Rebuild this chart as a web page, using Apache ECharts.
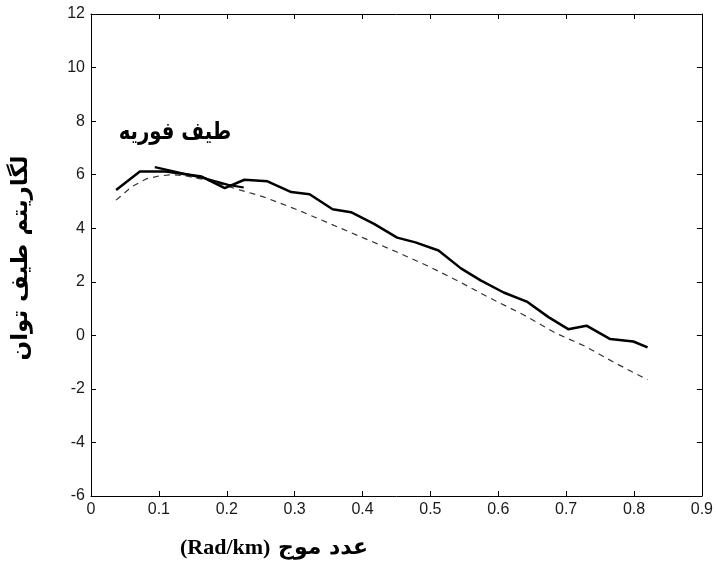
<!DOCTYPE html>
<html><head><meta charset="utf-8">
<script src="https://cdn.jsdelivr.net/npm/echarts@6/dist/echarts.min.js"></script>
<style>html,body{margin:0;padding:0;background:#fff}#c{width:716px;height:571px}</style>
</head><body><div id="c"></div>
<script>
const xTicks = [0,0.1,0.2,0.3,0.4,0.5,0.6,0.7,0.8,0.9];
const yTicks = [-6,-4,-2,0,2,4,6,8,10,12];
const mainX = [0.037,0.072,0.11,0.163,0.197,0.226,0.26,0.295,0.322,0.356,0.383,0.417,0.451,0.478,0.512,0.545,0.574,0.608,0.642,0.674,0.703,0.730,0.765,0.799,0.820];
const mainY = [5.43,6.12,6.12,5.93,5.50,5.81,5.75,5.35,5.27,4.71,4.60,4.16,3.65,3.47,3.17,2.50,2.05,1.60,1.26,0.68,0.23,0.36,-0.14,-0.23,-0.45];
const shortX = [0.094,0.133,0.170,0.202,0.225];
const shortY = [6.28,6.06,5.85,5.62,5.52];
const dashX = [0.037,0.06,0.082,0.10,0.12,0.14,0.17,0.20,0.219,0.253,0.304,0.353,0.402,0.449,0.498,0.542,0.588,0.637,0.684,0.728,0.772,0.82];
const dashY = [5.05,5.55,5.85,5.95,6.0,5.95,5.8,5.58,5.43,5.18,4.69,4.16,3.63,3.13,2.57,2.01,1.39,0.77,0.09,-0.41,-1.03,-1.66];
const titleText = 'طیف فوریه';
const yLabel = 'لگاریتم طیف توان';
const xLabelLatin = '(Rad/km)';
const xLabelArabic = 'عدد موج';

const zip = (a,b)=>a.map((v,i)=>[v,b[i]]);
const chart = echarts.init(document.getElementById('c'), null, {renderer:'canvas'});
const lblFont = {color:'#1a1a1a', fontSize:16, fontFamily:'Liberation Sans'};
const axLine = {show:true, onZero:false, lineStyle:{color:'#000', width:1}};
const tick = {show:true, inside:true, length:5, lineStyle:{color:'#000'}};
chart.setOption({
  animation:false,
  grid:{left:91, right:12, top:14, bottom:75, containLabel:false},
  xAxis:[
    {type:'value', min:0, max:0.9, interval:0.1, axisLine:axLine, axisTick:tick,
     splitLine:{show:false},
     axisLabel:Object.assign({margin:6, formatter:v=>String(Math.round(v*10)/10)}, lblFont)},
    {type:'value', position:'top', min:0, max:0.9, interval:0.1, axisLine:axLine, axisTick:tick,
     splitLine:{show:false}, axisLabel:{show:false}}
  ],
  yAxis:[
    {type:'value', min:-6, max:12, interval:2, axisLine:axLine, axisTick:tick,
     splitLine:{show:false}, axisLabel:Object.assign({margin:6}, lblFont)},
    {type:'value', position:'right', min:-6, max:12, interval:2, axisLine:axLine, axisTick:tick,
     splitLine:{show:false}, axisLabel:{show:false}}
  ],
  graphic:[
    {type:'text', x:175, y:133, scaleX:0.82,
     style:{text:titleText, font:'bold 24px "DejaVu Sans"', fill:'#000', align:'center', verticalAlign:'middle'}},
    {type:'text', x:21, y:258, rotation:Math.PI/2,
     style:{text:yLabel, font:'bold 23px "DejaVu Sans"', fill:'#000', align:'center', verticalAlign:'middle'}},
    {type:'text', x:180, y:548,
     style:{text:xLabelLatin, font:'bold 22px "Liberation Serif"', fill:'#000', align:'left', verticalAlign:'middle'}},
    {type:'text', x:368, y:548,
     style:{text:xLabelArabic, font:'bold 22px "DejaVu Sans"', fill:'#000', align:'right', verticalAlign:'middle'}}
  ],
  series:[
    {type:'line', data:zip(dashX,dashY), symbol:'none', lineStyle:{color:'#333', width:1.2, type:[6,5]}},
    {type:'line', data:zip(mainX,mainY), symbol:'none', lineStyle:{color:'#000', width:2.5}},
    {type:'line', data:zip(shortX,shortY), symbol:'none', lineStyle:{color:'#000', width:2.2}}
  ]
});
</script></body></html>
